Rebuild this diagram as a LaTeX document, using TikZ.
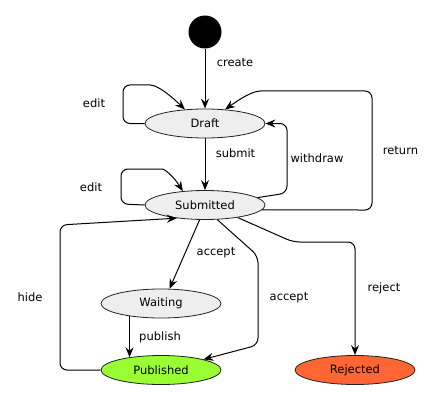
\documentclass[tikz,border=0pt]{standalone}
\usepackage{fontspec}
\setmainfont{DejaVu Sans}
\usetikzlibrary{shapes.geometric,arrows.meta}

\begin{document}
\begin{tikzpicture}[x=1pt,y=-1pt,
  every node/.style={font=\fontsize{11.5}{13}\selectfont},
  state/.style={ellipse,draw=statelinecolor,line width=0.8pt,fill=statefillcolor,
    minimum width=120pt,minimum height=29pt,inner sep=0pt},
  flow/.style={draw=flowlinecolor,line width=1pt,rounded corners=7pt,
    -{Stealth[length=10pt,width=8pt,inset=3.5pt]}},
  lbl/.style={inner sep=0pt}]
\definecolor{statelinecolor}{rgb}{0.133333, 0.133333, 0.133333}
\definecolor{statefillcolor}{rgb}{0.933333, 0.933333, 0.933333}
\definecolor{flowlinecolor}{rgb}{0.000000, 0.000000, 0.000000}
\definecolor{publishedcolor}{rgb}{0.600000, 1.000000, 0.200000}
\definecolor{rejectedcolor}{rgb}{1.000000, 0.400000, 0.200000}
\useasboundingbox (0,0) rectangle (438,401);
% states
\node[circle,fill=black,minimum size=33pt,inner sep=0pt] (start) at (205,32) {};
\node[state] (draft) at (205,123.5) {Draft};
\node[state] (submitted) at (205,205) {Submitted};
\node[state] (waiting) at (161,303.5) {Waiting};
\node[state,fill=publishedcolor] (published) at (161,370) {Published};
\node[state,fill=rejectedcolor] (rejected) at (355,370) {Rejected};
% transitions
\draw[flow] (start) -- (draft);
\draw[flow] (draft.west) -- (123,123.5) -- (123,85) -- (143,85)
  .. controls (158,85) and (172,97) .. (draft.145);
\draw[flow] (draft) -- (submitted);
\draw[flow] (submitted.8) -- (287,193) -- (287,123.5) -- (draft.east);
\draw[flow] (submitted.-5) -- (372,210) -- (372,91) -- (268,91)
  .. controls (252,91) and (240,99) .. (draft.35);
\draw[flow] (submitted.west) -- (121,204) -- (121,169) -- (155,169)
  .. controls (165,169) and (174,177) .. (submitted.148);
\draw[flow] (submitted.250) -- (waiting.60);
\draw[flow] (submitted.310) -- (258,256) -- (258,345) -- (published.14);
\draw[flow] (submitted.339) -- (293,242) -- (355,242) -- (rejected.north);
\draw[flow] (waiting.202) -- (published.158);
\draw[flow] (published.west) -- (60,370) -- (60,225) -- (submitted.205);
% labels
\node[lbl] (createlbl) at (235,63) {create};
\node[lbl] (editlbl) at (94,103) {edit};
\node[lbl] (submitlbl) at (235.5,153) {submit};
\node[lbl] (withdrawlbl) at (317,158) {withdraw};
\node[lbl] (returnlbl) at (400.5,151) {return};
\node[lbl] (editlbltwo) at (91,187) {edit};
\node[lbl] (acceptlbl) at (216,253) {accept};
\node[lbl] (hidelbl) at (30,297) {hide};
\node[lbl] (acceptlbltwo) at (289,298) {accept};
\node[lbl] (rejectlbl) at (384,288) {reject};
\node[lbl] (publishlbl) at (160,337) {publish};
\end{tikzpicture}
\end{document}
